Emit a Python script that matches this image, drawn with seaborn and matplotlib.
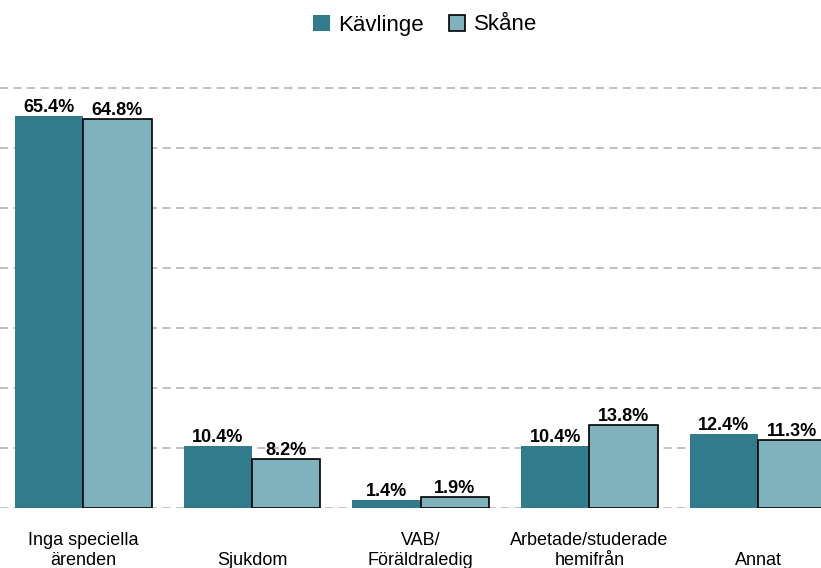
import pandas as pd
import numpy as np
import matplotlib.pyplot as plt
import seaborn as sns

categories = ["Inga speciella\närenden", "\nSjukdom", "VAB/\nFöräldraledig",
              "Arbetade/studerade\nhemifrån", "\nAnnat"]
kavlinge = [65.4, 10.4, 1.4, 10.4, 12.4]
skane = [64.8, 8.2, 1.9, 13.8, 11.3]
series = ["Kävlinge", "Skåne"]
colors = ["#317B8D", "#7FB2BC"]

df = pd.DataFrame({
    "kategori": categories * 2,
    "serie": [series[0]] * len(categories) + [series[1]] * len(categories),
    "andel": kavlinge + skane,
})

sns.set_style("white")
plt.rcParams['font.family'] = ['Liberation Sans', 'DejaVu Sans']
plt.rcParams['text.color'] = 'black'
plt.rcParams['xtick.color'] = 'black'

fig = plt.figure(figsize=(8.21, 5.68), dpi=100)
ax = fig.add_axes([0, 60 / 568, 1, 432 / 568])

sns.barplot(data=df, x="kategori", y="andel", hue="serie", palette=colors,
            width=0.81, saturation=1, ax=ax, legend=False)

# Skåne-staplarna har svart kant
for bar in ax.containers[1]:
    bar.set_edgecolor("black")
    bar.set_linewidth(1.2)
for bar in ax.containers[0]:
    bar.set_edgecolor("none")

for cont in ax.containers:
    ax.bar_label(cont, fmt="%.1f%%", padding=0, fontsize=13, fontweight="bold",
                 color="black")

ax.set_xlim(-0.494, 4.373)
ax.set_ylim(0, 72)
ax.set_yticks(np.arange(0, 71, 10))
ax.yaxis.grid(True, linestyle=(0, (4.5, 3)), color="#BBBBBB", linewidth=1.3)
ax.set_axisbelow(True)
ax.tick_params(axis="y", left=False, labelleft=False)
ax.tick_params(axis="x", bottom=False, labelsize=13, pad=14, labelcolor="black")
ax.set_xlabel("")
ax.set_ylabel("")
sns.despine(ax=ax, left=True, bottom=True)

handles = [plt.Rectangle((0, 0), 1, 1, facecolor=colors[0], edgecolor="none"),
           plt.Rectangle((0, 0), 1, 1, facecolor=colors[1], edgecolor="black", linewidth=1.2)]
fig.legend(handles, series, loc="center", bbox_to_anchor=(0.518, 1 - 25 / 568),
           ncol=2, frameon=False, fontsize=16, handlelength=0.75, handleheight=0.75,
           handletextpad=0.4, columnspacing=1.1)

fig.savefig("out.png", dpi=100)
